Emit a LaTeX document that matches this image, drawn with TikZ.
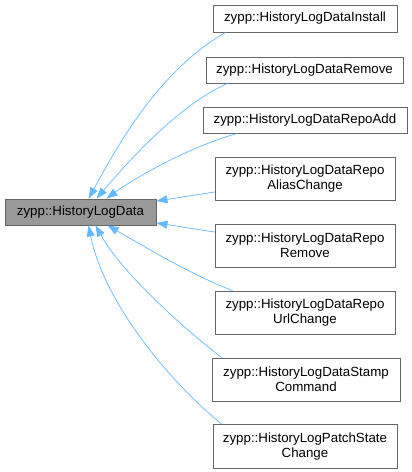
\documentclass[tikz,border=0pt]{standalone}
\usepackage{fontspec}
\newfontfamily\dxfont{Liberation Sans}
\usetikzlibrary{arrows.meta}
\definecolor{edgeblue}{HTML}{63B8FF}
\definecolor{boxline}{HTML}{666666}
\definecolor{basefill}{HTML}{999999}

\begin{document}
\begin{tikzpicture}[
  x=1pt, y=-1pt,
  cls/.style={rectangle, draw=boxline, line width=0.9pt, inner sep=0pt, align=center,
    font=\dxfont\fontsize{13.3}{15}\selectfont},
  base/.style={cls, fill=basefill},
  edge/.style={edgeblue, line width=0.7pt, -{Triangle[length=11pt, width=8pt]}}
  ]
  \useasboundingbox (0,0) rectangle (412,472);

  % Base class on the left
  \node[base, minimum width=151, minimum height=26] (base) at (80.5,212) {zypp::HistoryLogData};

  % Derived classes in a column on the right
  \node[cls, minimum width=184, minimum height=27] (install) at (305,18.5) {zypp::HistoryLogDataInstall};
  \node[cls, minimum width=197, minimum height=26] (remove) at (304.5,70) {zypp::HistoryLogDataRemove};
  \node[cls, minimum width=204, minimum height=26] (repoadd) at (305,120) {zypp::HistoryLogDataRepoAdd};
  \node[cls, minimum width=180, minimum height=43] (alias) at (305,178.5) {zypp::HistoryLogDataRepo\\AliasChange};
  \node[cls, minimum width=180, minimum height=43] (reporemove) at (305,245.5) {zypp::HistoryLogDataRepo\\Remove};
  \node[cls, minimum width=180, minimum height=43] (url) at (305,312.5) {zypp::HistoryLogDataRepo\\UrlChange};
  \node[cls, minimum width=188, minimum height=43] (stamp) at (306,379.5) {zypp::HistoryLogDataStamp\\Command};
  \node[cls, minimum width=184, minimum height=44] (patch) at (305,446.5) {zypp::HistoryLogPatchState\\Change};

  % Inheritance arrows pointing to the base class
  \draw[edge] ([xshift=13]install.south west) .. controls +(-70,40) and +(25,-45) .. ([xshift=84]base.north west);
  \draw[edge] ([xshift=22]remove.south west) .. controls +(-50,22) and +(30,-35) .. ([xshift=92]base.north west);
  \draw[edge] ([xshift=35]repoadd.south west) .. controls +(-45,12) and +(30,-22) .. ([xshift=102]base.north west);
  \draw[edge] ([yshift=-13.5]alias.west) .. controls +(-20,3) and +(20,-3) .. ([yshift=11]base.east);
  \draw[edge] ([yshift=13.5]reporemove.west) .. controls +(-20,-3) and +(20,3) .. ([yshift=-11]base.east);
  \draw[edge] ([xshift=18]url.north west) .. controls +(-40,-15) and +(35,20) .. ([xshift=103]base.south west);
  \draw[edge] ([xshift=10]stamp.north west) .. controls +(-45,-35) and +(25,45) .. ([xshift=91]base.south west);
  \draw[edge] ([xshift=9]patch.north west) .. controls +(-55,-45) and +(15,75) .. ([xshift=84]base.south west);

\end{tikzpicture}
\end{document}
